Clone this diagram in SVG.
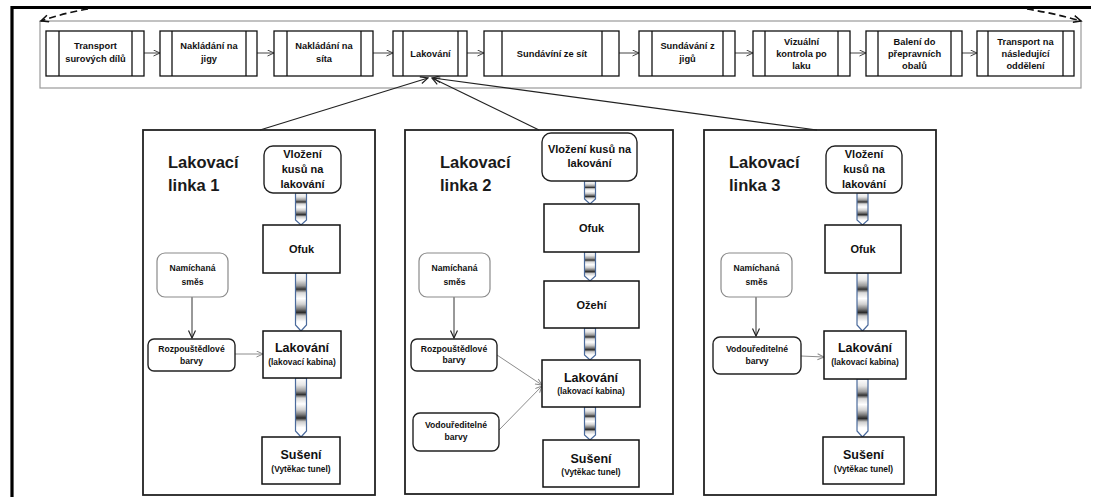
<svg xmlns="http://www.w3.org/2000/svg" width="1094" height="497" viewBox="0 0 1094 497">
<defs>
  <style>
    text { font-family: "Liberation Sans", Arial, sans-serif; font-weight: bold; fill: #111; }
    .c { text-anchor: middle; }
    .step { font-size: 9.3px; }
    .node { font-size: 11px; }
    .main { font-size: 12.5px; }
    .sub { font-size: 8.4px; }
    .small { font-size: 8.6px; }
    .title { font-size: 16.5px; fill: #1a1a1a; }
    .proc { fill: #fff; stroke: #111; stroke-width: 1.3; }
    .bar { stroke: #111; stroke-width: 1.3; }
    .box { fill: #fff; stroke: #111; stroke-width: 1.5; }
    .rbox { fill: #fff; stroke: #222; stroke-width: 1.4; }
    .gbox { fill: #fff; stroke: #8a8a8a; stroke-width: 1.2; }
    .panel { fill: #fff; stroke: #222; stroke-width: 1.8; }
    .pipe { fill: url(#pipeFill); stroke: #4a6a9c; stroke-width: 1.2; }
    .flow { fill: none; stroke: #444; stroke-width: 1; marker-end: url(#arrDark); }
    .feed { fill: none; stroke: #222; stroke-width: 1.2; marker-end: url(#arrBlack); }
    .drop { fill: none; stroke: #333; stroke-width: 1; marker-end: url(#arrBlack); }
    .grey { fill: none; stroke: #8c8c8c; stroke-width: 1; marker-end: url(#arrGrey); }
    .loop { fill: none; stroke: #111; stroke-width: 1.7; stroke-dasharray: 7,4; marker-end: url(#arrDash); }
  </style>
  <linearGradient id="pipeFill" x1="0" y1="0" x2="0" y2="1">
    <stop offset="0" stop-color="#ffffff"/>
    <stop offset="0.12" stop-color="#e6e6e6"/>
    <stop offset="0.22" stop-color="#9a9a9a"/>
    <stop offset="0.28" stop-color="#333333"/>
    <stop offset="0.34" stop-color="#d8d8d8"/>
    <stop offset="0.44" stop-color="#ffffff"/>
    <stop offset="0.54" stop-color="#cfcfcf"/>
    <stop offset="0.62" stop-color="#7a7a7a"/>
    <stop offset="0.68" stop-color="#2a2a2a"/>
    <stop offset="0.74" stop-color="#cccccc"/>
    <stop offset="0.84" stop-color="#ffffff"/>
    <stop offset="1" stop-color="#ffffff"/>
  </linearGradient>
  <marker id="arrDark" markerUnits="userSpaceOnUse" markerWidth="8" markerHeight="8" refX="7" refY="3.5" orient="auto">
    <path d="M0.5,0.5 L7,3.5 L0.5,6.5" fill="none" stroke="#444" stroke-width="1"/>
  </marker>
  <marker id="arrBlack" markerUnits="userSpaceOnUse" markerWidth="9" markerHeight="9" refX="8" refY="4" orient="auto">
    <path d="M0.5,0.5 L8,4 L0.5,7.5" fill="none" stroke="#222" stroke-width="1.2"/>
  </marker>
  <marker id="arrGrey" markerUnits="userSpaceOnUse" markerWidth="8" markerHeight="8" refX="7" refY="3.5" orient="auto">
    <path d="M0.5,0.5 L7,3.5 L0.5,6.5" fill="none" stroke="#8c8c8c" stroke-width="1"/>
  </marker>
  <marker id="arrDash" markerUnits="userSpaceOnUse" markerWidth="10" markerHeight="10" refX="8" refY="4" orient="auto">
    <path d="M0.5,0.5 L8,4 L0.5,7.5" fill="none" stroke="#111" stroke-width="1.5"/>
  </marker>
</defs>

<!-- outer frame -->
<g id="frame">
  <path d="M12,497 V7.5 H1091" fill="none" stroke="#000" stroke-width="3.2"/>
  <rect x="40" y="21" width="1041" height="67" fill="none" stroke="#9a9a9a" stroke-width="1.2"/>
</g>

<!-- panels (backgrounds) -->
<g id="panel-1"><rect class="panel" x="143" y="130" width="232" height="365"/>
  <text class="title" x="168" y="168">Lakovací</text><text class="title" x="168" y="191">linka 1</text></g>
<g id="panel-2"><rect class="panel" x="405" y="130" width="268" height="364"/>
  <text class="title" x="440" y="168">Lakovací</text><text class="title" x="440" y="191">linka 2</text></g>
<g id="panel-3"><rect class="panel" x="704" y="130" width="232" height="365"/>
  <text class="title" x="729" y="168">Lakovací</text><text class="title" x="729" y="191">linka 3</text></g>

<!-- connectors -->
<g id="connectors">
  <!-- loop-back dashed arrows -->
  <path class="loop" d="M88,9 Q64,13 41,21"/>
  <path class="loop" d="M1027,9 Q1053,13 1081,21"/>
  <!-- main process flow -->
  <line class="flow" x1="144" y1="53" x2="160" y2="53"/>
  <line class="flow" x1="257" y1="53" x2="274" y2="53"/>
  <line class="flow" x1="373" y1="53" x2="393" y2="53"/>
  <line class="flow" x1="467" y1="53" x2="484" y2="53"/>
  <line class="flow" x1="619" y1="53" x2="639" y2="53"/>
  <line class="flow" x1="735" y1="53" x2="753" y2="53"/>
  <line class="flow" x1="850" y1="53" x2="866" y2="53"/>
  <line class="flow" x1="962" y1="53" x2="977" y2="53"/>
  <!-- lines feeding the painting step -->
  <line class="feed" x1="260" y1="130" x2="428" y2="78"/>
  <line class="feed" x1="539" y1="130" x2="432" y2="78"/>
  <line class="feed" x1="817" y1="130" x2="433" y2="78"/>
  <!-- line 1 -->
  <path class="pipe" d="M295.5,193 V220 L301,225 L306.5,220 V193 Z"/>
  <path class="pipe" d="M295.5,273 V325 L301,331 L306.5,325 V273 Z"/>
  <path class="pipe" d="M295.5,378 V431 L301,437 L306.5,431 V378 Z"/>
  <line class="drop" x1="192" y1="297" x2="192" y2="338"/>
  <line class="grey" x1="235" y1="354" x2="263" y2="354"/>
  <!-- line 2 -->
  <path class="pipe" d="M584.5,181 V199 L590,204 L595.5,199 V181 Z"/>
  <path class="pipe" d="M584.5,252 V276 L590,281 L595.5,276 V252 Z"/>
  <path class="pipe" d="M584.5,328 V355 L590,360 L595.5,355 V328 Z"/>
  <path class="pipe" d="M584.5,407 V435 L590,440 L595.5,435 V407 Z"/>
  <line class="drop" x1="454" y1="297" x2="454" y2="338"/>
  <line class="grey" x1="497" y1="355" x2="542" y2="385"/>
  <line class="grey" x1="499" y1="430" x2="542" y2="386"/>
  <!-- line 3 -->
  <path class="pipe" d="M857,193 V220 L862.5,225 L868,220 V193 Z"/>
  <path class="pipe" d="M857,273 V325 L862.5,331 L868,325 V273 Z"/>
  <path class="pipe" d="M857,379 V431 L862.5,437 L868,431 V379 Z"/>
  <line class="drop" x1="756" y1="297" x2="756" y2="336"/>
  <line class="grey" x1="801" y1="356" x2="824" y2="357"/>
</g>

<!-- main process steps -->
<g id="step-transport-in">
  <rect class="proc" x="46" y="31" width="98" height="45"/>
  <line class="bar" x1="59" y1="31" x2="59" y2="76"/><line class="bar" x1="132" y1="31" x2="132" y2="76"/>
  <text class="step c" x="95.5" y="49">Transport</text><text class="step c" x="95.5" y="62">surových dílů</text>
</g>
<g id="step-jigs-load">
  <rect class="proc" x="160" y="31" width="97" height="45"/>
  <line class="bar" x1="172" y1="31" x2="172" y2="76"/><line class="bar" x1="246" y1="31" x2="246" y2="76"/>
  <text class="step c" x="209" y="49">Nakládání na</text><text class="step c" x="209" y="62">jigy</text>
</g>
<g id="step-screens-load">
  <rect class="proc" x="274" y="31" width="99" height="45"/>
  <line class="bar" x1="287" y1="31" x2="287" y2="76"/><line class="bar" x1="361" y1="31" x2="361" y2="76"/>
  <text class="step c" x="324" y="49">Nakládání na</text><text class="step c" x="324" y="62">síta</text>
</g>
<g id="step-painting">
  <rect class="proc" x="393" y="31" width="74" height="45"/>
  <line class="bar" x1="403" y1="31" x2="403" y2="76"/><line class="bar" x1="458" y1="31" x2="458" y2="76"/>
  <text class="step c" x="430.5" y="57">Lakování</text>
</g>
<g id="step-screens-unload">
  <rect class="proc" x="484" y="31" width="135" height="45"/>
  <line class="bar" x1="502" y1="31" x2="502" y2="76"/><line class="bar" x1="602" y1="31" x2="602" y2="76"/>
  <text class="step c" x="552" y="57">Sundávíní ze sít</text>
</g>
<g id="step-jigs-unload">
  <rect class="proc" x="639" y="31" width="96" height="45"/>
  <line class="bar" x1="652" y1="31" x2="652" y2="76"/><line class="bar" x1="723" y1="31" x2="723" y2="76"/>
  <text class="step c" x="687.5" y="49">Sundávání z</text><text class="step c" x="687.5" y="62">jigů</text>
</g>
<g id="step-inspection">
  <rect class="proc" x="753" y="31" width="97" height="45"/>
  <line class="bar" x1="765" y1="31" x2="765" y2="76"/><line class="bar" x1="838" y1="31" x2="838" y2="76"/>
  <text class="step c" x="801.5" y="45">Vizuální</text><text class="step c" x="801.5" y="57">kontrola po</text><text class="step c" x="801.5" y="69">laku</text>
</g>
<g id="step-packing">
  <rect class="proc" x="866" y="31" width="96" height="45"/>
  <line class="bar" x1="878" y1="31" x2="878" y2="76"/><line class="bar" x1="951" y1="31" x2="951" y2="76"/>
  <text class="step c" x="914.5" y="45">Balení do</text><text class="step c" x="914.5" y="57">přepravních</text><text class="step c" x="914.5" y="69">obalů</text>
</g>
<g id="step-transport-out">
  <rect class="proc" x="977" y="31" width="97" height="45"/>
  <line class="bar" x1="988" y1="31" x2="988" y2="76"/><line class="bar" x1="1063" y1="31" x2="1063" y2="76"/>
  <text class="step c" x="1025.5" y="45">Transport na</text><text class="step c" x="1025.5" y="57">následující</text><text class="step c" x="1025.5" y="69">oddělení</text>
</g>

<!-- line 1 nodes -->
<g id="l1-load">
  <rect class="rbox" x="264" y="146" width="77" height="47" rx="9"/>
  <text class="node c" x="302.5" y="158">Vložení</text><text class="node c" x="302.5" y="173">kusů na</text><text class="node c" x="302.5" y="188">lakování</text>
</g>
<g id="l1-blow"><rect class="box" x="263" y="225" width="77" height="48"/><text class="node c" x="301.5" y="253">Ofuk</text></g>
<g id="l1-paint"><rect class="box" x="263" y="331" width="78" height="47"/>
  <text class="main c" x="302" y="352">Lakování</text><text class="sub c" x="302" y="365">(lakovací kabina)</text></g>
<g id="l1-dry"><rect class="box" x="262" y="437" width="78" height="47"/>
  <text class="main c" x="301" y="459">Sušení</text><text class="sub c" x="301" y="472">(Vytěkac tunel)</text></g>
<g id="l1-mix"><rect class="gbox" x="157" y="253" width="71" height="44" rx="8"/>
  <text class="small c" x="192.5" y="271">Namíchaná</text><text class="small c" x="192.5" y="285">směs</text></g>
<g id="l1-solvent"><rect class="rbox" x="148" y="339" width="87" height="32" rx="6"/>
  <text class="small c" x="191.5" y="352">Rozpouštědlové</text><text class="small c" x="191.5" y="364">barvy</text></g>

<!-- line 2 nodes -->
<g id="l2-load">
  <rect class="rbox" x="542" y="133" width="95" height="48" rx="9"/>
  <text class="node c" x="589.5" y="153">Vložení kusů na</text><text class="node c" x="589.5" y="167">lakování</text>
</g>
<g id="l2-blow"><rect class="box" x="544" y="204" width="95" height="48"/><text class="node c" x="591.5" y="232">Ofuk</text></g>
<g id="l2-flame"><rect class="box" x="544" y="281" width="95" height="47"/><text class="node c" x="591.5" y="309">Ožehí</text></g>
<g id="l2-paint"><rect class="box" x="542" y="360" width="98" height="47"/>
  <text class="main c" x="591" y="382">Lakování</text><text class="sub c" x="591" y="394">(lakovací kabina)</text></g>
<g id="l2-dry"><rect class="box" x="543" y="440" width="96" height="47"/>
  <text class="main c" x="591" y="463">Sušení</text><text class="sub c" x="591" y="475">(Vytěkac tunel)</text></g>
<g id="l2-mix"><rect class="gbox" x="419" y="253" width="71" height="44" rx="8"/>
  <text class="small c" x="454.5" y="271">Namíchaná</text><text class="small c" x="454.5" y="285">směs</text></g>
<g id="l2-solvent"><rect class="rbox" x="411" y="339" width="86" height="32" rx="6"/>
  <text class="small c" x="454" y="352">Rozpouštědlové</text><text class="small c" x="454" y="363">barvy</text></g>
<g id="l2-water"><rect class="rbox" x="413" y="413" width="86" height="38" rx="7"/>
  <text class="small c" x="456" y="428">Vodouředitelné</text><text class="small c" x="456" y="440">barvy</text></g>

<!-- line 3 nodes -->
<g id="l3-load">
  <rect class="rbox" x="826" y="146" width="76" height="47" rx="9"/>
  <text class="node c" x="864" y="158">Vložení</text><text class="node c" x="864" y="173">kusů na</text><text class="node c" x="864" y="188">lakování</text>
</g>
<g id="l3-blow"><rect class="box" x="825" y="225" width="76" height="48"/><text class="node c" x="863" y="253">Ofuk</text></g>
<g id="l3-paint"><rect class="box" x="824" y="331" width="82" height="48"/>
  <text class="main c" x="865" y="352">Lakování</text><text class="sub c" x="865" y="365">(lakovací kabina)</text></g>
<g id="l3-dry"><rect class="box" x="823" y="437" width="81" height="47"/>
  <text class="main c" x="863.5" y="459">Sušení</text><text class="sub c" x="863.5" y="472">(Vytěkac tunel)</text></g>
<g id="l3-mix"><rect class="gbox" x="721" y="253" width="71" height="44" rx="8"/>
  <text class="small c" x="756.5" y="271">Namíchaná</text><text class="small c" x="756.5" y="285">směs</text></g>
<g id="l3-water"><rect class="rbox" x="713" y="337" width="88" height="37" rx="7"/>
  <text class="small c" x="757" y="352">Vodouředitelné</text><text class="small c" x="757" y="364">barvy</text></g>
</svg>
